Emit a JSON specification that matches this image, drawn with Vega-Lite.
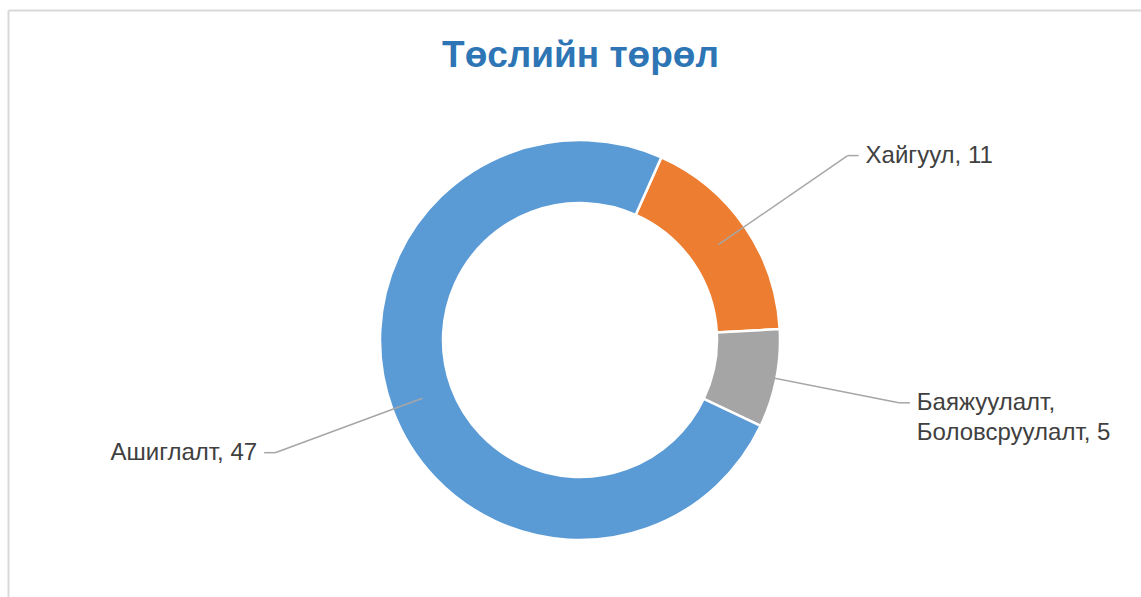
{
  "$schema": "https://vega.github.io/schema/vega-lite/v6.json",
  "width": 1133,
  "height": 587,
  "autosize": {"type": "none"},
  "padding": {"left": 8, "top": 10, "right": 0, "bottom": 0},
  "background": "white",
  "config": {"view": {"stroke": null}, "font": "Liberation Sans"},
  "title": {
    "text": "Төслийн төрөл",
    "font": "Liberation Sans",
    "fontSize": 37,
    "fontWeight": "bold",
    "color": "#2E75B6",
    "anchor": "middle",
    "frame": "group",
    "offset": -65,
    "dx": 6
  },
  "data": {
    "values": [
      {"category": "Хайгуул", "value": 11},
      {"category": "Баяжуулалт, Боловсруулалт", "value": 5},
      {"category": "Ашиглалт", "value": 47}
    ]
  },
  "layer": [
    {
      "mark": {"type": "arc", "outerRadius": 200, "innerRadius": 137, "stroke": "white", "strokeWidth": 2.5},
      "encoding": {
        "x": {"datum": 0, "type": "quantitative",
          "scale": {"domain": [-572, 561], "nice": false, "zero": false},
          "axis": {"orient": "top", "domain": true, "domainColor": "#d9d9d9", "domainWidth": 2, "ticks": false, "labels": false, "grid": false, "title": null}},
        "y": {"datum": 0, "type": "quantitative",
          "scale": {"domain": [-257, 330], "nice": false, "zero": false},
          "axis": {"orient": "left", "domain": true, "domainColor": "#d9d9d9", "domainWidth": 2, "ticks": false, "labels": false, "grid": false, "title": null}},
        "theta": {"field": "value", "type": "quantitative", "stack": true, "scale": {"range": [0.41888, 6.70206]}},
        "color": {"field": "category", "type": "nominal",
          "scale": {"domain": ["Хайгуул", "Баяжуулалт, Боловсруулалт", "Ашиглалт"], "range": ["#ED7D31", "#A5A5A5", "#5B9BD5"]},
          "legend": null},
        "order": {"field": "category", "sort": "descending"}
      }
    },
    {
      "transform": [
        {"stack": "value", "groupby": [], "sort": [{"field": "category", "order": "descending"}], "as": ["v0", "v1"]},
        {"joinaggregate": [{"op": "sum", "field": "value", "as": "total"}]},
        {"calculate": "0.41888 + PI * (datum.v0 + datum.v1) / datum.total", "as": "a"},
        {"calculate": "168 * sin(datum.a)", "as": "ax"},
        {"calculate": "168 * cos(datum.a)", "as": "ay"},
        {"calculate": "325 * sin(datum.a)", "as": "ex"},
        {"calculate": "325 * cos(datum.a)", "as": "ey"},
        {"calculate": "datum.ex + (datum.ex >= 0 ? 11 : -11)", "as": "hx"},
        {"calculate": "datum.hx + (datum.ex >= 0 ? 7 : -7)", "as": "tx"},
        {"calculate": "replace(datum.category, ', ', ',\\n') + ', ' + datum.value", "as": "label"}
      ],
      "layer": [
        {
          "mark": {"type": "rule", "color": "#a6a6a6", "strokeWidth": 1.5},
          "encoding": {
            "x": {"field": "ax", "type": "quantitative"},
            "y": {"field": "ay", "type": "quantitative"},
            "x2": {"field": "ex"},
            "y2": {"field": "ey"}
          }
        },
        {
          "mark": {"type": "rule", "color": "#a6a6a6", "strokeWidth": 1.5},
          "encoding": {
            "x": {"field": "ex", "type": "quantitative"},
            "y": {"field": "ey", "type": "quantitative"},
            "x2": {"field": "hx"},
            "y2": {"field": "ey"}
          }
        },
        {
          "transform": [{"filter": "datum.ex >= 0"}],
          "mark": {"type": "text", "align": "left", "baseline": "middle", "fontSize": 24, "color": "#404040", "font": "Liberation Sans", "lineBreak": "\n", "lineHeight": 30},
          "encoding": {
            "x": {"field": "tx", "type": "quantitative"},
            "y": {"field": "ey", "type": "quantitative"},
            "text": {"field": "label"}
          }
        },
        {
          "transform": [{"filter": "datum.ex < 0"}],
          "mark": {"type": "text", "align": "right", "baseline": "middle", "fontSize": 24, "color": "#404040", "font": "Liberation Sans", "lineBreak": "\n", "lineHeight": 30},
          "encoding": {
            "x": {"field": "tx", "type": "quantitative"},
            "y": {"field": "ey", "type": "quantitative"},
            "text": {"field": "label"}
          }
        }
      ]
    }
  ]
}
